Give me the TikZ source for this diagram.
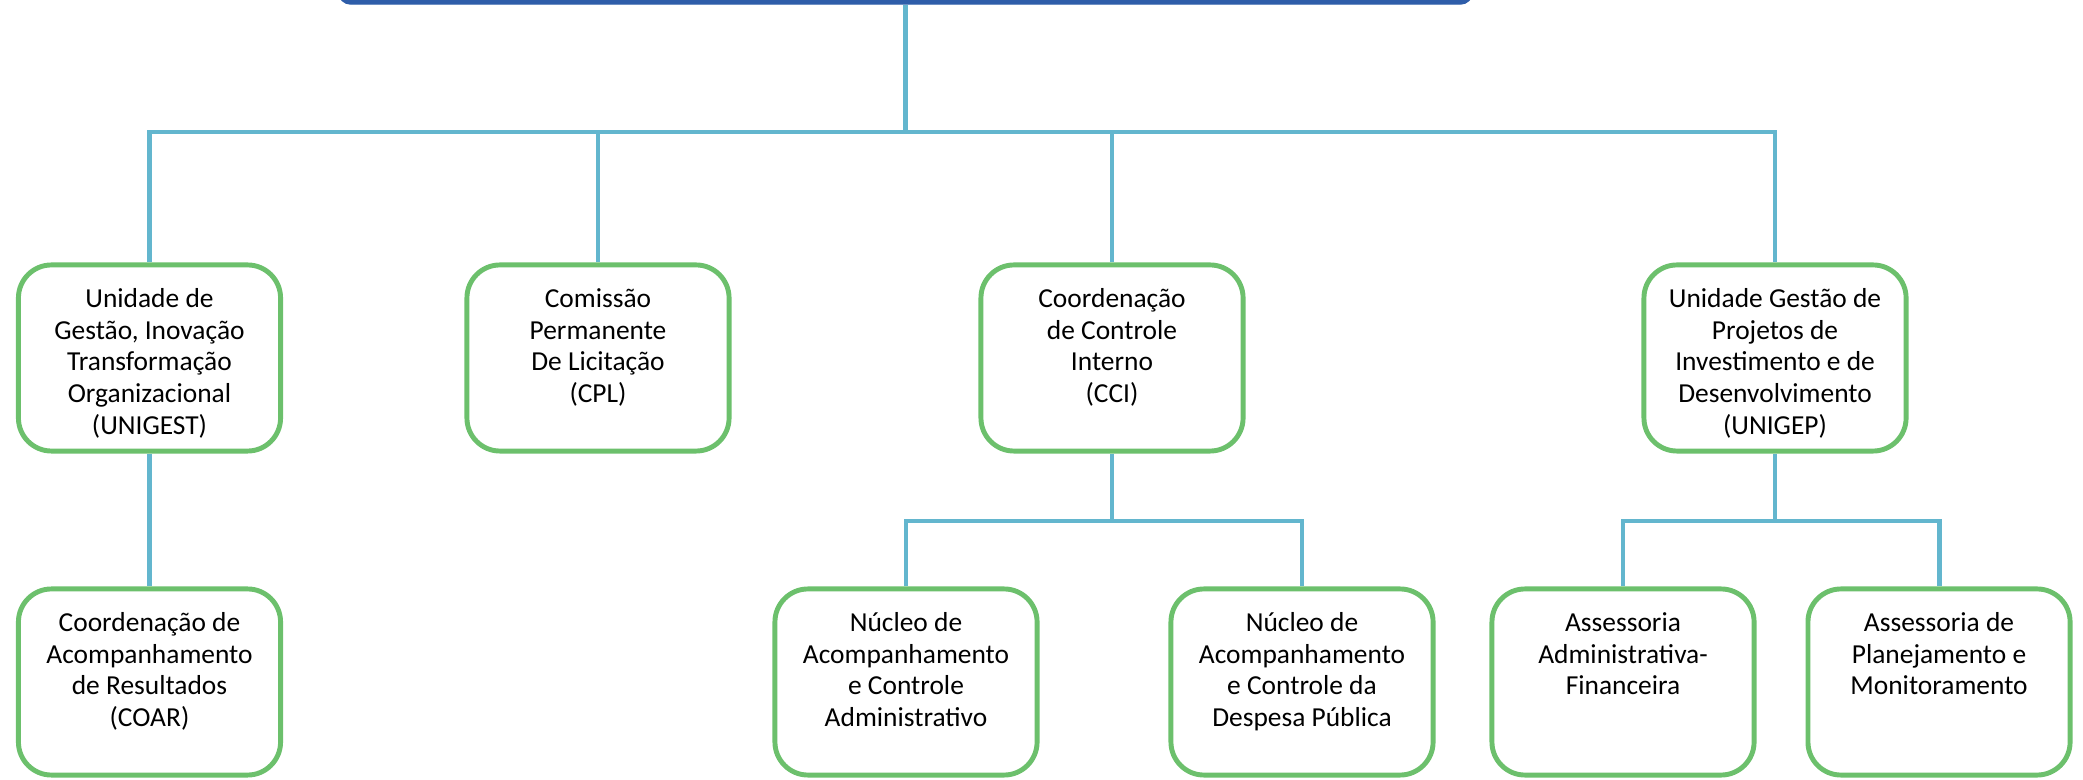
\documentclass[tikz,border=0pt]{standalone}
\usepackage{fontspec}
\setmainfont{Carlito}
\definecolor{headblue}{RGB}{46,93,169}
\definecolor{boxgreen}{RGB}{108,192,108}
\definecolor{linkblue}{RGB}{99,182,206}
\newcommand{\boxtext}[1]{\parbox[c][18mm][t]{25mm}{\centering\rule{0pt}{3.95mm}#1}}
\tikzset{
  unit/.style={draw=boxgreen, line width=1.4pt, rounded corners=3.3mm, fill=white,
    minimum width=26.2mm, minimum height=18.6mm, inner sep=0pt,
    font=\fontsize{7.8}{9}\selectfont},
  link/.style={draw=linkblue, line width=1.4pt},
}
\begin{document}
\begin{tikzpicture}[x=0.01cm,y=-0.01cm]
    \useasboundingbox (0,0) rectangle (2083,780);
    \node[fill=headblue, draw=headblue, rounded corners=1.2mm, minimum width=11.33cm, minimum height=1.28cm] (head) at (905.5,-60) {};
    \node[unit] (unigest) at (149.5,358) {\boxtext{Unidade de\\Gestão, Inovação\\Transformação\\Organizacional\\(UNIGEST)}};
    \node[unit] (cpl) at (598,358) {\boxtext{Comissão\\Permanente\\De Licitação\\(CPL)}};
    \node[unit] (cci) at (1112,358) {\boxtext{Coordenação\\de Controle\\Interno\\(CCI)}};
    \node[unit] (unigep) at (1775,358) {\boxtext{Unidade Gestão de\\Projetos de\\Investimento e de\\Desenvolvimento\\(UNIGEP)}};
    \node[unit] (coar) at (149.5,682) {\boxtext{Coordenação de\\Acompanhamento\\de Resultados\\(COAR)}};
    \node[unit] (nadm) at (906,682) {\boxtext{Núcleo de\\Acompanhamento\\e Controle\\Administrativo}};
    \node[unit] (ndesp) at (1302,682) {\boxtext{Núcleo de\\Acompanhamento\\e Controle da\\Despesa Pública}};
    \node[unit] (aaf) at (1623,682) {\boxtext{Assessoria\\Administrativa-\\Financeira}};
    \node[unit] (apm) at (1939,682) {\boxtext{Assessoria de\\Planejamento e\\Monitoramento}};
    \coordinate (hub) at (905.5,132);
    \coordinate (ccibus) at (1112,521);
    \coordinate (gepbus) at (1775,521);
    \draw[link] (head.south) -- (hub);
    \draw[link] (unigest.north) |- (hub) -| (unigep.north);
    \draw[link] (cpl.north) -- (cpl.north |- hub);
    \draw[link] (cci.north) -- (cci.north |- hub);
    \draw[link] (unigest.south) -- (coar.north);
    \draw[link] (cci.south) -- (ccibus);
    \draw[link] (nadm.north) |- (ccibus) -| (ndesp.north);
    \draw[link] (unigep.south) -- (gepbus);
    \draw[link] (aaf.north) |- (gepbus) -| (apm.north);
\end{tikzpicture}
\end{document}
